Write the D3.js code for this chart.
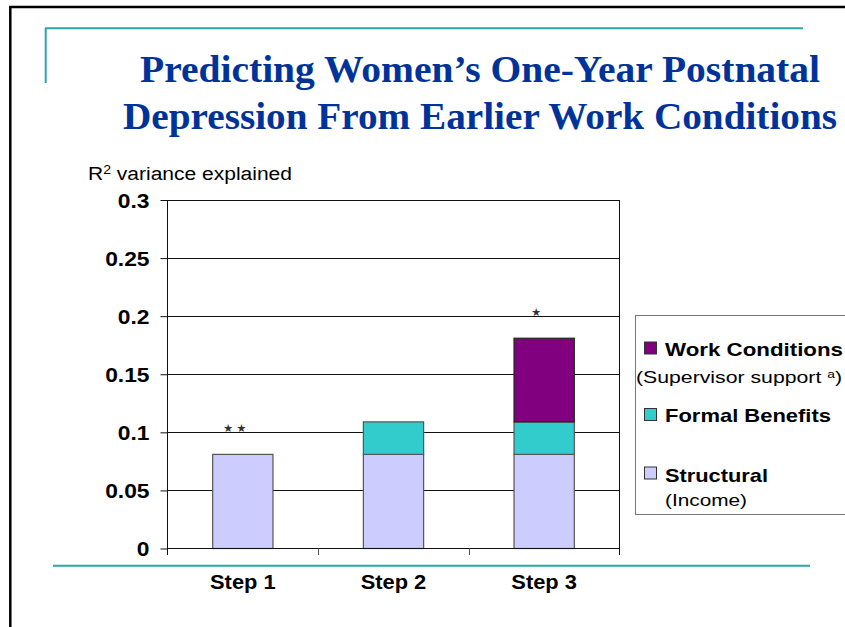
<!DOCTYPE html>
<html>
<head>
<meta charset="utf-8">
<script src="https://cdn.jsdelivr.net/npm/d3@7/dist/d3.min.js"></script>
<style>
  html, body { margin: 0; padding: 0; background: #fff; }
  svg { display: block; }
  text { font-family: "Liberation Sans", Arial, sans-serif; }
</style>
</head>
<body>
<svg id="chart" width="845" height="627"></svg>
<script>
// ---- data ----
const categories = ["Step 1", "Step 2", "Step 3"];
const structural = [0.081, 0.081, 0.081];
const formalBenefits = [0, 0.028, 0.028];
const workConditions = [0, 0, 0.072];
const significance = ["\u2605 \u2605", "", "\u2605"];
const yTicks = [0, 0.05, 0.1, 0.15, 0.2, 0.25, 0.3];
const seriesKeys = ["structural", "formal", "work"];
const seriesNames = ["Structural", "Formal Benefits", "Work Conditions"];
const seriesNotes = ["(Income)", "", "(Supervisor support "];
const titleLines = ["Predicting Women\u2019s One-Year Postnatal", "Depression From Earlier Work Conditions"];
const axisTitle = "variance explained";

const colors = { structural: "#ccccff", formal: "#33cccc", work: "#800080" };
const teal = "#2ea5a5";

const svg = d3.select("#chart");

// stretch a text element horizontally to a target width
function fitWidth(sel, w) {
  sel.attr("textLength", w).attr("lengthAdjust", "spacingAndGlyphs");
}

// ---- slide frame ----
svg.append("line").attr("x1", 9).attr("x2", 845).attr("y1", 7).attr("y2", 7)
  .attr("stroke", "#000").attr("stroke-width", 2.5);
svg.append("line").attr("x1", 10.3).attr("x2", 10.3).attr("y1", 6).attr("y2", 627)
  .attr("stroke", "#000").attr("stroke-width", 2.5);
svg.append("line").attr("x1", 45).attr("x2", 803).attr("y1", 28.3).attr("y2", 28.3)
  .attr("stroke", teal).attr("stroke-width", 2);
svg.append("line").attr("x1", 45.7).attr("x2", 45.7).attr("y1", 28).attr("y2", 83)
  .attr("stroke", teal).attr("stroke-width", 2);
svg.append("line").attr("x1", 53).attr("x2", 810).attr("y1", 565.7).attr("y2", 565.7)
  .attr("stroke", teal).attr("stroke-width", 2);

// ---- title ----
const titleSpec = [{ y: 82, w: 680 }, { y: 129, w: 714 }];
titleLines.forEach((t, i) => {
  svg.append("text")
    .attr("x", 480).attr("y", titleSpec[i].y)
    .attr("text-anchor", "middle")
    .style("font-family", "'Liberation Serif', 'Times New Roman', serif")
    .style("font-weight", "bold")
    .style("font-size", "38px")
    .attr("fill", "#003399")
    .text(t)
    .call(fitWidth, titleSpec[i].w);
});

// ---- scales ----
const plot = { left: 167.5, right: 619.5, top: 200, bottom: 548.5 };
const x = d3.scaleBand().domain(categories).range([plot.left, plot.right]).padding(0);
const y = d3.scaleLinear().domain([0, 0.3]).range([plot.bottom, plot.top]);
const barW = x.bandwidth() * 0.4;

// gridlines
svg.append("g").selectAll("line").data(yTicks.filter(d => d > 0)).join("line")
  .attr("x1", plot.left).attr("x2", plot.right)
  .attr("y1", d => Math.round(y(d)) + 0.5).attr("y2", d => Math.round(y(d)) + 0.5)
  .attr("stroke", "#111").attr("stroke-width", 1);

// stacked bars
const rows = categories.map((c, i) => ({
  cat: c, structural: structural[i], formal: formalBenefits[i], work: workConditions[i]
}));
const stacked = d3.stack().keys(seriesKeys)(rows);
const barG = svg.append("g");
stacked.forEach(layer => {
  barG.append("g").selectAll("rect")
    .data(layer.filter(d => d[1] - d[0] > 0))
    .join("rect")
    .attr("x", d => x(d.data.cat) + (x.bandwidth() - barW) / 2)
    .attr("y", d => y(d[1]))
    .attr("width", barW)
    .attr("height", d => y(d[0]) - y(d[1]))
    .attr("fill", colors[layer.key])
    .attr("stroke", layer.key === "work" ? "#222" : "#555")
    .attr("stroke-width", 1.2);
});

// significance markers
svg.append("g").selectAll("text").data(rows).join("text")
  .attr("x", d => x(d.cat) + x.bandwidth() / 2 - 8)
  .attr("y", d => y(d.structural + d.formal + d.work) - 22.5)
  .attr("text-anchor", "middle")
  .style("font-family", "'DejaVu Sans', sans-serif")
  .style("font-size", "11px")
  .attr("fill", "#333")
  .text((d, i) => significance[i]);

// y axis
const yAxis = svg.append("g")
  .attr("transform", `translate(${plot.left},0)`)
  .call(d3.axisLeft(y).tickValues(yTicks).tickSize(7).tickPadding(11)
    .tickFormat(d => String(+d.toFixed(2))));
yAxis.select(".domain").remove();
yAxis.selectAll(".tick line").attr("stroke", "#111");
yAxis.selectAll(".tick text")
  .style("font-size", "20px").style("font-weight", "bold")
  .attr("fill", "#000")
  .attr("dy", "0.36em")
  .each(function () {
    const w = this.getComputedTextLength();
    d3.select(this).call(fitWidth, w * 1.14);
  });
svg.append("line").attr("x1", plot.left).attr("x2", plot.left)
  .attr("y1", plot.top).attr("y2", 555).attr("stroke", "#111");

// x axis
svg.append("line").attr("x1", plot.left).attr("x2", plot.right)
  .attr("y1", plot.bottom).attr("y2", plot.bottom).attr("stroke", "#111");
svg.append("line").attr("x1", plot.right).attr("x2", plot.right)
  .attr("y1", plot.top).attr("y2", 555).attr("stroke", "#111");
svg.append("g").selectAll("line").data(categories.slice(1)).join("line")
  .attr("x1", d => Math.round(x(d)) + 0.5).attr("x2", d => Math.round(x(d)) + 0.5)
  .attr("y1", plot.bottom).attr("y2", 555).attr("stroke", "#555");
svg.append("g").selectAll("text").data(categories).join("text")
  .attr("x", d => x(d) + x.bandwidth() / 2)
  .attr("y", 589)
  .attr("text-anchor", "middle")
  .style("font-size", "21px").style("font-weight", "bold")
  .attr("fill", "#000")
  .text(d => d)
  .each(function () {
    const w = this.getComputedTextLength();
    d3.select(this).call(fitWidth, w * 1.04);
  });

// axis title
const at = svg.append("text").attr("x", 88).attr("y", 179.5)
  .style("font-size", "18px").attr("fill", "#000");
at.append("tspan").text("R");
at.append("tspan").attr("dy", -6).style("font-size", "12px").text("2");
at.append("tspan").attr("dy", 6).text(" " + axisTitle);
fitWidth(at, 204);

// ---- legend ----
svg.append("rect").attr("x", 635.5).attr("y", 315.5).attr("width", 300).attr("height", 199)
  .attr("fill", "#fff").attr("stroke", "#777").attr("stroke-width", 1);
const legendLayout = [
  { sq: 467, base: 482, w: 103, note: { x: 665, y: 506, w: 82 } },
  { sq: 408.5, base: 422, w: 166, note: null },
  { sq: 342, base: 356, w: 178, note: { x: 636, y: 383, w: 206 } }
];
seriesKeys.forEach((k, i) => {
  const L = legendLayout[i];
  svg.append("rect").attr("x", 644.5).attr("y", L.sq).attr("width", 12).attr("height", 12)
    .attr("fill", colors[k]).attr("stroke", "#333").attr("stroke-width", 1);
  svg.append("text").attr("x", 665).attr("y", L.base)
    .style("font-size", "18.5px").style("font-weight", "bold").attr("fill", "#000")
    .text(seriesNames[i]).call(fitWidth, L.w);
  if (L.note) {
    const t = svg.append("text").attr("x", L.note.x).attr("y", L.note.y)
      .style("font-size", "17px").attr("fill", "#000");
    t.append("tspan").text(seriesNotes[i]);
    if (k === "work") {
      t.append("tspan").attr("dy", -5).style("font-size", "11px").text("a");
      t.append("tspan").attr("dy", 5).text(")");
    }
    fitWidth(t, L.note.w);
  }
});
</script>
</body>
</html>
